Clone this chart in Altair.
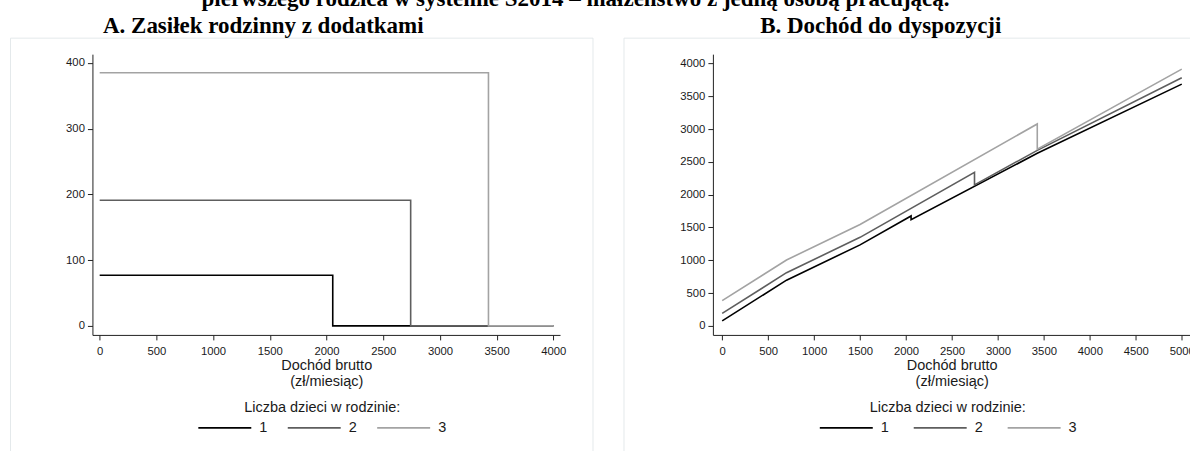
import altair as alt
import pandas as pd

# ---------------- data ----------------
series = ["1", "2", "3"]
colors = ["#000000", "#5e5e5e", "#a3a3a3"]

# Panel A: family benefit with supplements (zł/month) vs gross income
a_x = {
    "1": [0, 2055, 2055, 4000],
    "2": [0, 2742, 2742, 4000],
    "3": [0, 3428, 3428, 4000],
}
a_y = {
    "1": [77, 77, 0, 0],
    "2": [191, 191, 0, 0],
    "3": [385, 385, 0, 0],
}

# Panel B: disposable income vs gross income
b_x = {
    "1": [0, 700, 1500, 2055, 2055, 3428, 5000],
    "2": [0, 700, 1500, 2745, 2745, 3428, 5000],
    "3": [0, 700, 1500, 3428, 3428, 5000],
}
b_y = {
    "1": [77, 697, 1235, 1676, 1620, 2630, 3685],
    "2": [191, 811, 1350, 2340, 2150, 2675, 3781],
    "3": [385, 1005, 1545, 3078, 2692, 3914],
}

a_ticks_x = [0, 500, 1000, 1500, 2000, 2500, 3000, 3500, 4000]
a_ticks_y = [0, 100, 200, 300, 400]
b_ticks_x = [0, 500, 1000, 1500, 2000, 2500, 3000, 3500, 4000, 4500, 5000]
b_ticks_y = [0, 500, 1000, 1500, 2000, 2500, 3000, 3500, 4000]

super_title = "pierwszego rodzica w systemie S2014 – małżeństwo z jedną osobą pracującą."
title_a = "A. Zasiłek rodzinny z dodatkami"
title_b = "B. Dochód do dyspozycji"
x_title = ["Dochód brutto", "(zł/miesiąc)"]
legend_title = "Liczba dzieci w rodzinie:"


def to_df(xs, ys):
    rows = []
    for s in series:
        for i, (xv, yv) in enumerate(zip(xs[s], ys[s])):
            rows.append({"x": xv, "y": yv, "n": s, "o": i})
    return pd.DataFrame(rows)


df_a = to_df(a_x, a_y)
df_b = to_df(b_x, b_y)
one = pd.DataFrame({"k": [0]})

SANS = "Liberation Sans"
SERIF = "Liberation Serif"
TXT = "#1a1a1a"
BOX = "#e4e9eb"


def legend(lx, cp):
    return alt.Legend(
        orient="none", legendX=lx, legendY=347, direction="horizontal",
        title=legend_title, titleAnchor="middle", titleFont=SANS,
        titleFontSize=14.5, titleFontWeight="normal", titleColor=TXT,
        titlePadding=4.5, labelFont=SANS, labelFontSize=14.5, labelColor=TXT,
        labelOffset=7, symbolType="stroke", symbolSize=2809,
        symbolStrokeWidth=1.6, clipHeight=16, columnPadding=cp, padding=0,
    )


def lines(df, xdom, ydom, xt, yt, lx, cp):
    return alt.Chart(df).mark_line(strokeWidth=1.6).encode(
        x=alt.X("x:Q", scale=alt.Scale(domain=xdom, nice=False, zero=False),
                axis=alt.Axis(values=xt, format="d", title=x_title, titleY=23.5,
                              titleBaseline="top", titleLineHeight=16,
                              labelPadding=5.5)),
        y=alt.Y("y:Q", scale=alt.Scale(domain=ydom, nice=False, zero=False),
                axis=alt.Axis(values=yt, format="d", title=None, labelPadding=3)),
        color=alt.Color("n:N", scale=alt.Scale(domain=series, range=colors),
                        legend=legend(lx, cp)),
        order="o:Q",
    )


def box(x0, x1):
    return alt.Chart(one).mark_rect(filled=False, stroke=BOX, strokeWidth=1).encode(
        x=alt.value(x0), x2=alt.value(x1), y=alt.value(-16), y2=alt.value(406)
    )


def hrule(x0, x1, y):
    return alt.Chart(one).mark_rule(stroke=BOX, strokeWidth=1).encode(
        x=alt.value(x0), x2=alt.value(x1), y=alt.value(y)
    )


def vrule(x, y0, y1):
    return alt.Chart(one).mark_rule(stroke=BOX, strokeWidth=1).encode(
        x=alt.value(x), y=alt.value(y0), y2=alt.value(y1)
    )


def text(t, x, y):
    return alt.Chart(one).mark_text(
        align="center", baseline="alphabetic", font=SERIF, fontWeight="bold",
        fontSize=23, color="#000000"
    ).encode(x=alt.value(x), y=alt.value(y), text=alt.value(t))


spacer = alt.Chart(one).mark_rect(opacity=0).encode(
    x=alt.value(0), x2=alt.value(1), y=alt.value(-70), y2=alt.value(-69)
)

panel_a = alt.layer(
    box(-82, 501),
    spacer,
    text(super_title, 483.5, -48),
    text(title_a, 171, -21),
    lines(df_a, [-64, 4059], [-13.7, 413.2], a_ticks_x, a_ticks_y, 105, 18.5),
).properties(width=468, height=281)

panel_b = alt.layer(
    hrule(-89, 530, -16),
    vrule(-89, -16, 406),
    text(title_b, 168, -21),
    lines(df_b, [-101, 5095], [-137, 4141.6], b_ticks_x, b_ticks_y, 106, 23),
).properties(width=478, height=281)

chart = alt.hconcat(panel_a, panel_b, spacing=153, bounds="flush").resolve_scale(
    color="independent"
).resolve_legend(color="independent").properties(
    padding={"left": 9.5, "top": -16, "right": -53.5, "bottom": -10.5},
    background="#ffffff",
).configure_view(strokeWidth=0).configure_axis(
    grid=False, domainColor="#222222", domainWidth=1, tickColor="#222222",
    tickWidth=1, tickSize=5, labelFont=SANS, labelFontSize=11.3,
    labelColor=TXT, titleFont=SANS, titleFontSize=14.5,
    titleFontWeight="normal", titleColor=TXT,
)

chart.save("out.html", embed_options={"renderer": "svg", "actions": False})
